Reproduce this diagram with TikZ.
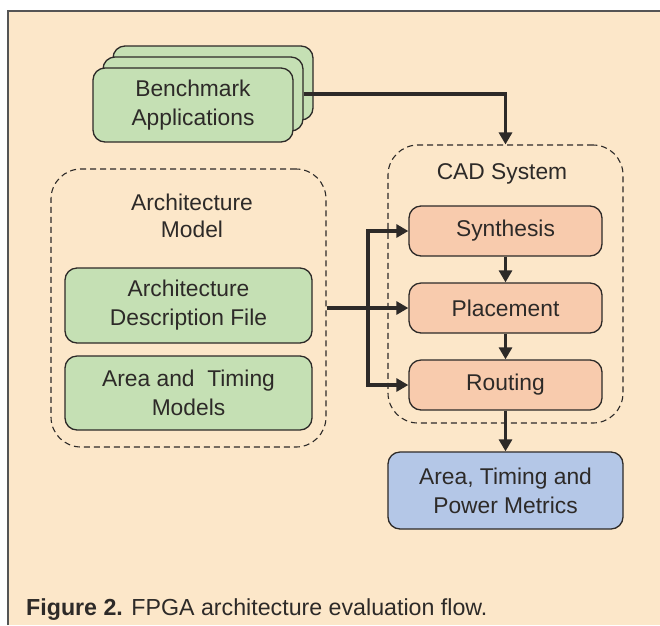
\documentclass[tikz,border=0pt]{standalone}
\usepackage{fontspec}
\setmainfont{Liberation Sans}
\usetikzlibrary{arrows.meta,positioning}
\definecolor{bgc}{RGB}{252,231,201}
\definecolor{grn}{RGB}{197,224,180}
\definecolor{org}{RGB}{248,203,173}
\definecolor{blu}{RGB}{180,199,231}
\definecolor{edge}{RGB}{45,42,40}
\definecolor{frm}{RGB}{85,85,85}
\tikzset{
  box/.style={draw=edge, line width=1.3pt, rounded corners=12pt, align=center,
    font=\fontsize{22.8}{29}\selectfont, text=edge, inner sep=0pt},
  grpbox/.style={draw=edge, line width=1.1pt, dash pattern=on 6pt off 4pt, rounded corners=30pt, inner sep=0pt},
  lbl/.style={align=center, font=\fontsize{22.8}{27}\selectfont, text=edge},
  conn/.style={draw=edge, line width=3.9pt, -{Triangle[length=12pt,width=13pt]}},
  plain/.style={draw=edge, line width=3.9pt}
}
\begin{document}
\begin{tikzpicture}[x=1pt,y=-1pt]
\useasboundingbox (0,0) rectangle (660,625);
\fill[white] (0,0) rectangle (660,625);
\fill[bgc] (7,10) rectangle (660,625);
\draw[frm, line width=2pt] (7.5,625) -- (7.5,10.5) -- (660,10.5);

% groups
\node[grpbox, minimum width=275pt, minimum height=278pt] (archgrp) at (188.5,308) {};
\node[grpbox, minimum width=235pt, minimum height=278pt] (cadgrp) at (505.5,284) {};
\node[lbl] (archlbl) at (192,216) {Architecture\\Model};
\node[lbl] (cadlbl) at (502,174) {CAD System};

% benchmark stack
\node[box, fill=grn, minimum width=200pt, minimum height=74pt] (bench3) at (213,83) {};
\node[box, fill=grn, minimum width=200pt, minimum height=74pt] (bench2) at (203,94) {};
\node[box, fill=grn, minimum width=200pt, minimum height=74pt] (bench) at (193,105) {Benchmark\\Applications};

% architecture boxes
\node[box, fill=grn, minimum width=247pt, minimum height=75pt] (archdesc) at (188.5,305.5) {Architecture\\Description File};
\node[box, fill=grn, minimum width=247pt, minimum height=74pt] (areatim) at (188.5,393) {Area and\ \ Timing\\Models};

% CAD steps
\node[box, fill=org, minimum width=193pt, minimum height=50pt] (synth) at (505.5,231) {Synthesis};
\node[box, fill=org, minimum width=193pt, minimum height=50pt] (place) at (505.5,308) {Placement};
\node[box, fill=org, minimum width=193pt, minimum height=50pt] (route) at (505.5,385) {Routing};

% metrics
\node[box, fill=blu, minimum width=235pt, minimum height=77pt] (metrics) at (505.5,490.5) {Area, Timing and\\Power Metrics};

% connectors
\draw[conn] (bench2.east) -| (cadgrp.north);
\coordinate (feedstart) at (archgrp.east |- place.west);
\coordinate (br) at (368,308);
\draw[conn] (feedstart) -- (place.west);
\draw[conn] (br) |- (synth.west);
\draw[conn] (br) |- (route.west);
\draw[conn] (synth.south) -- (place.north);
\draw[conn] (place.south) -- (route.north);
\draw[conn] (route.south) -- (metrics.north);

% caption
\node[anchor=base west, inner sep=0pt, text=edge, font=\fontsize{23.2}{27}\selectfont] (caption) at (26,615) {\textbf{Figure 2.} FPGA architecture evaluation flow.};
\end{tikzpicture}
\end{document}
